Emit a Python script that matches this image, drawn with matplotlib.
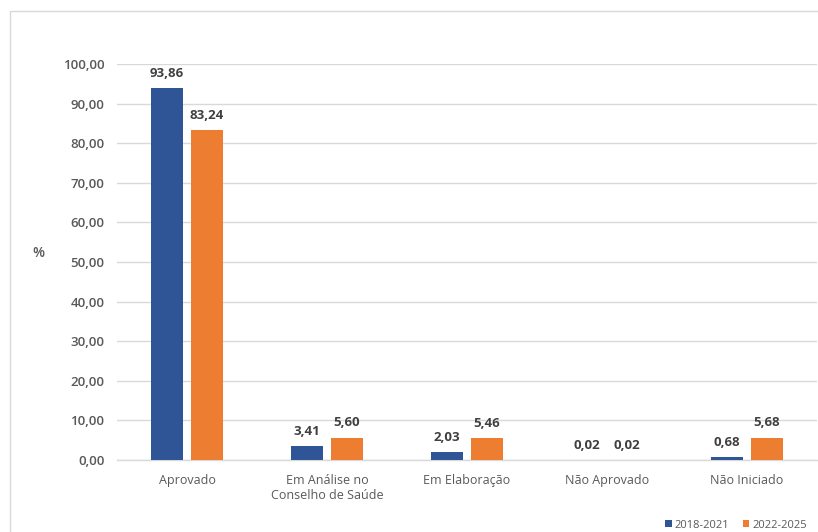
import matplotlib
matplotlib.use("Agg")
import matplotlib.pyplot as plt
import numpy as np
from matplotlib.patches import Rectangle

categories = ["Aprovado", "Em Análise no\nConselho de Saúde", "Em Elaboração", "Não Aprovado", "Não Iniciado"]
series_names = ["2018-2021", "2022-2025"]
values_2018 = [93.86, 3.41, 2.03, 0.02, 0.68]
values_2022 = [83.24, 5.60, 5.46, 0.02, 5.68]
yticks = [0, 10, 20, 30, 40, 50, 60, 70, 80, 90, 100]

colors = ["#2F5597", "#ED7D31"]
txt = "#595959"

plt.rcParams['font.family'] = ['Open Sans', 'DejaVu Sans']

fig = plt.figure(figsize=(8.18, 5.32), dpi=100)
fig.patches.append(Rectangle((10/818, -0.1), 1.2, (1 - 11/532) + 0.1, transform=fig.transFigure,
                             fill=False, edgecolor="#D9D9D9", linewidth=1.0))
ax = fig.add_axes([117/818, 1 - 460/532, 700/818, (460 - 64)/532])

x = np.arange(len(categories))
w = 0.226
off = 0.143
b1 = ax.bar(x - off, values_2018, w, color=colors[0], label=series_names[0], zorder=3)
b2 = ax.bar(x + off, values_2022, w, color=colors[1], label=series_names[1], zorder=3)

def fmt(v):
    return f"{v:.2f}".replace(".", ",")

for bars, vals in ((b1, values_2018), (b2, values_2022)):
    for r, v in zip(bars, vals):
        ax.annotate(fmt(v), (r.get_x() + r.get_width() / 2, v), xytext=(0, 6),
                    textcoords="offset points", ha="center", va="bottom",
                    fontsize=9.5, fontweight="bold", color="#404040")

ax.set_xlim(-0.5, len(categories) - 0.5)
ax.set_ylim(0, 100)
ax.set_yticks(yticks)
ax.set_yticklabels([fmt(t) for t in yticks], fontsize=9.5, color=txt, fontweight="semibold")
ax.set_xticks(x)
ax.set_xticklabels(categories, fontsize=9, color=txt)
ax.tick_params(axis="both", length=0)
ax.tick_params(axis="y", pad=9)
ax.tick_params(axis="x", pad=10)
ax.grid(axis="y", color="#D9D9D9", linewidth=1.0, zorder=0)
for s in ["top", "right", "left"]:
    ax.spines[s].set_visible(False)
ax.spines["bottom"].set_color("#D9D9D9")
ax.spines["bottom"].set_linewidth(1.0)

fig.text(38/818, 1 - 253/532, "%", fontsize=10, color=txt, ha="center", va="center", fontweight="semibold")

leg = fig.legend(handles=[b1, b2], labels=series_names, loc="center right",
                 bbox_to_anchor=(813/818, 1 - 525/532), ncol=2, frameon=False,
                 fontsize=8, handlelength=0.6, handleheight=0.6, handletextpad=0.3,
                 columnspacing=1.2, borderpad=0)
for t in leg.get_texts():
    t.set_color(txt)

fig.savefig("out.png", dpi=100, facecolor="white")
